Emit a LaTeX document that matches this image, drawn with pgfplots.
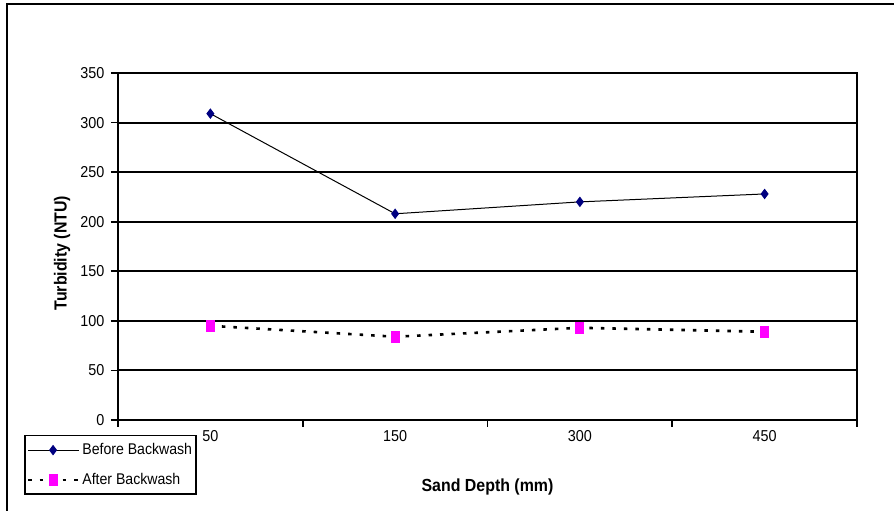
\documentclass[border=0pt]{standalone}
\usepackage{pgfplots}
\pgfplotsset{compat=1.18}
\usepackage{fontspec}
\setmainfont{Liberation Sans}[FakeStretch=0.91]
\definecolor{navyc}{HTML}{000080}
\definecolor{magc}{HTML}{FF00FF}
\begin{document}
\begin{tikzpicture}[x=1pt,y=1pt]
\useasboundingbox (0,0) rectangle (894,511);
\draw[line width=2pt] (7,-20) -- (7,507) -- (910,507);
\begin{axis}[
  at={(118pt,91pt)}, anchor=south west,
  scale only axis, width=739pt, height=347pt,
  xmin=-0.5, xmax=3.5, ymin=0, ymax=350,
  ytick={0,50,...,350},
  ytick pos=left,
  xtick={-0.5,0.5,1.5,2.5,3.5}, xticklabels={},
  extra x ticks={0,1,2,3},
  extra x tick labels={50,150,300,450},
  extra x tick style={major tick length=0pt, xticklabel style={yshift=-7pt}},
  tick align=outside, major tick length=7pt,
  tick style={black, line width=1.6pt},
  ymajorgrids=true,
  grid style={black, line width=2pt},
  axis line style={black, line width=2pt},
  axis x line*=bottom,
  separate axis lines,
  /pgf/number format/assume math mode=true,
  tick label style={font=\fontsize{15.8}{18}\selectfont},
  yticklabel style={xshift=-3pt},
  xlabel={\textbf{Sand Depth (mm)}},
  ylabel={\textbf{Turbidity (NTU)}},
  label style={font=\fontsize{17.5}{20}\selectfont},
  xlabel style={at={(axis description cs:0.5,-0.193)}, anchor=center},
  ylabel style={at={(axis description cs:-0.0758,0.481)}, anchor=center},
  legend style={at={(rel axis cs:-0.1272,-0.0432)}, anchor=north west,
    draw=black, line width=1.5pt, fill=white,
    font=\fontsize{15.5}{17}\selectfont, inner xsep=2pt, inner ysep=6pt, row sep=13pt,
    legend cell align=left},
  clip=false,
]
\draw[black, line width=2pt] (rel axis cs:0,1) -- (rel axis cs:1,1) -- (rel axis cs:1,0);
\draw[black, line width=2pt] (rel axis cs:0,0) -- (rel axis cs:0,1);
\addplot[black, line width=1pt, mark=diamond*, mark size=4.5pt,
  mark options={fill=navyc, draw=navyc, solid},
  legend image code/.code={
    \draw[mark repeat=2,mark phase=2] plot coordinates {(0pt,0pt) (25pt,0pt) (51pt,0pt)};
  }]
  coordinates {(0,309) (1,208) (2,220) (3,228)};
\addlegendentry{Before Backwash\hspace{6pt}}
\addplot[black, line width=2.6pt, dash pattern=on 3.5pt off 8pt, mark=square*, mark size=4pt,
  mark options={fill=magc, draw=magc, solid, line width=0pt, yscale=1.35},
  legend image code/.code={
    \draw[mark repeat=2,mark phase=2] plot coordinates {(0pt,0pt) (25pt,0pt) (51pt,0pt)};
  }]
  coordinates {(0,95) (1,84) (2,93) (3,89)};
\addlegendentry{After Backwash}
\end{axis}
\end{tikzpicture}
\end{document}
